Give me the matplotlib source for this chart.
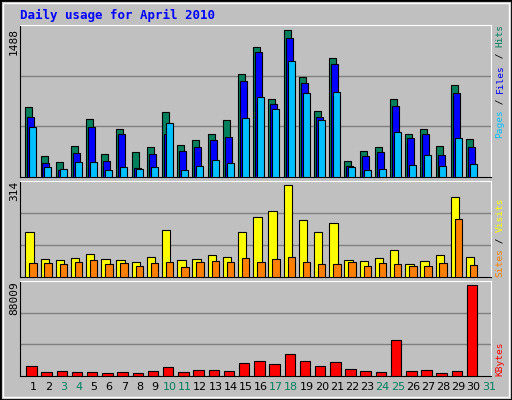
import matplotlib
matplotlib.use("Agg")
import matplotlib.pyplot as plt
from matplotlib.patches import Rectangle

days = list(range(1, 32))
hits = [708,212,152,314,587,233,486,253,304,658,324,374,435,577,1042,1315,789,1488,1012,668,1204,162,263,304,789,435,486,314,931,385,0]
files = [607,138,71,243,506,162,435,91,233,435,263,304,374,405,971,1265,739,1407,951,607,1143,111,212,253,718,395,435,223,850,304,0]
pages = [506,101,81,152,152,71,101,81,101,546,71,111,172,142,597,806,688,1174,850,577,860,101,71,81,455,121,223,111,395,132,0]
visits = [154,61,58,65,79,61,58,51,68,160,58,61,75,68,154,205,225,314,195,154,184,58,55,65,92,44,55,75,273,68,0]
sites = [48,48,44,51,58,44,48,38,48,51,34,51,55,51,65,51,61,68,51,44,44,51,38,48,44,38,38,48,198,41,0]
kbytes = [9957,4176,5139,4176,4176,3212,4176,3212,5139,8994,4176,6103,6103,5139,12848,14775,11884,21520,14775,9957,13812,7066,5139,4176,35010,5139,6103,3212,5139,88009,0]
weekend = [3,4,10,11,17,18,24,25,31]

BG = "#c0c0c0"
fig = plt.figure(figsize=(5.12, 4.0), dpi=100, facecolor=BG)
fig.patches.append(Rectangle((0, 0), 1, 1, transform=fig.transFigure, fill=False, ec="black", lw=2))
fig.patches.append(Rectangle((3/512, 3/400), 506/512, 394/400, transform=fig.transFigure, fill=False, ec="white", lw=1))
mono = "DejaVu Sans Mono"

def mkax(top, bottom):
    ax = fig.add_axes([20/512, 1-bottom/400, 471/512, (bottom-top)/400])
    ax.set_facecolor(BG)
    ax.set_xlim(0, 31)
    for s in ["top", "right"]:
        ax.spines[s].set_color("white")
    for s in ["left", "bottom"]:
        ax.spines[s].set_color("black")
    ax.set_yticks([])
    ax.set_xticks([])
    return ax

def bars(ax, vals, off, w, color):
    x = [d - 1 + off for d in days]
    v = [val if val > 0 else float('nan') for val in vals]
    ax.bar(x, v, width=w, align='edge', color=color, edgecolor='black', lw=0.8, zorder=3)

def grid(ax, ymax):
    for f in (1/3, 2/3):
        ax.axhline(ymax*f, color="#808080", lw=1, zorder=1)

ax1 = mkax(25, 177)
top1 = 1488*152/147
ax1.set_ylim(0, top1)
grid(ax1, top1)
bars(ax1, hits, 0.35, 0.46, "#00805c")
bars(ax1, files, 0.48, 0.46, "#0000ff")
bars(ax1, pages, 0.61, 0.46, "#00c0ff")

ax2 = mkax(181, 277)
top2 = 314*96/92
ax2.set_ylim(0, top2)
grid(ax2, top2)
bars(ax2, visits, 0.35, 0.55, "#ffff00")
bars(ax2, sites, 0.61, 0.49, "#ff8000")

ax3 = mkax(281, 376)
top3 = 88009*95/91.5
ax3.set_ylim(0, top3)
grid(ax3, top3)
bars(ax3, kbytes, 0.41, 0.69, "#ff0000")
ax3.set_xticks([d - 0.14 for d in days])
ax3.set_xticklabels([str(d) for d in days], fontsize=8, family="DejaVu Sans")
ax3.tick_params(axis='x', length=0, pad=4)
for lbl, d in zip(ax3.get_xticklabels(), days):
    lbl.set_color("#00805c" if d in weekend else "black")

fig.text(20/512, 1-15/400, "Daily usage for April 2010", color="#0000ff", family=mono,
         fontweight="bold", fontsize=9, va="center", ha="left")

def ylab(txt, y):
    fig.text(14/512, 1-y/400, txt, rotation=90, family=mono, fontsize=8, ha="center", va="top")
ylab("1488", 28)
ylab("314", 181)
ylab("88009", 281)

FS = 6.8
STEP = 0.602*FS*100/72
def rlab(parts, ybot):
    y = ybot
    for t, c in parts:
        fig.text(500/512, 1-y/400, t, rotation=90, family=mono, fontsize=FS, color=c,
                 ha="center", va="bottom")
        y -= len(t)*STEP
rlab([("Pages", "#00c0ff"), (" / ", "black"), ("Files", "#0000ff"), (" / ", "black"), ("Hits", "#00805c")], 138)
rlab([("Sites", "#ff8000"), (" / ", "black"), ("Visits", "#ffff00")], 277)
rlab([("KBytes", "#ff0000")], 376)

fig.savefig("out.png", dpi=100, facecolor=BG)
